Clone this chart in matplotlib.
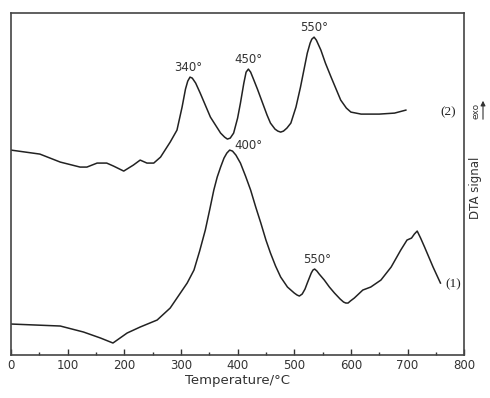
import numpy as np
import matplotlib
matplotlib.use("Agg")
import matplotlib.pyplot as plt
from matplotlib.ticker import MultipleLocator

# curve (2), upper trace, arbitrary units
t2 = [0, 51, 87, 122, 134, 152, 169, 181, 199, 216, 228, 240, 252, 264, 281, 293,
      302, 308, 312, 316, 320, 326, 334, 352, 370, 377, 382, 387, 393, 400, 405,
      411, 415, 419, 423, 428, 435, 452, 458, 466, 471, 476, 481, 487, 494, 503,
      511, 523, 528, 531, 535, 539, 547, 555, 565, 582, 592, 600, 618, 650, 677, 697]
s2 = [205, 201, 193, 188, 188, 192, 192, 189, 184, 190, 195, 192, 192, 198, 213, 225,
      248, 266, 274, 278, 277, 272, 262, 238, 222, 218, 216, 217, 222, 237, 252,
      272, 283, 286, 283, 276, 266, 240, 232, 226, 224, 223, 224, 227, 232, 248,
      268, 302, 312, 316, 318, 315, 305, 292, 278, 255, 247, 243, 241, 241, 242, 245]

# curve (1), lower trace
t1 = [0, 87, 128, 158, 180, 205, 228, 258, 281, 299, 311, 323, 333, 343, 351, 358,
      364, 370, 376, 381, 386, 391, 397, 405, 414, 423, 432, 441, 450, 458, 467,
      476, 488, 500, 505, 509, 514, 519, 523, 530, 533, 536, 540, 544, 553, 562,
      571, 581, 587, 591, 595, 599, 606, 621, 635, 653, 671, 688, 699, 707, 712,
      717, 723, 730, 745, 758]
s1 = [31, 29, 23, 17, 12, 22, 28, 35, 47, 62, 72, 85, 104, 125, 146, 165,
      178, 188, 197, 202, 205, 204, 200, 192, 179, 165, 148, 132, 115, 102, 89,
      78, 68, 62, 60, 59, 61, 66, 72, 82, 85, 86, 84, 81, 75, 68,
      62, 56, 53, 52, 52, 54, 57, 65, 68, 75, 88, 105, 115, 117, 121,
      124, 117, 108, 88, 72]

peak_labels = [("340°", 313, 288), ("450°", 420, 296), ("550°", 535, 328),
               ("400°", 420, 210), ("550°", 541, 96)]

fig = plt.figure(figsize=(4.9, 3.98), dpi=100)
ax = fig.add_axes([0.0224, 0.108, 0.925, 0.859])

ax.plot(t2, s2, color="#222222", lw=1.1, solid_joinstyle="round")
ax.plot(t1, s1, color="#222222", lw=1.1, solid_joinstyle="round")

for txt, x, y in peak_labels:
    ax.text(x, y, txt, ha="center", va="center", fontsize=8.5, color="#333333")

ax.text(772, 243, "(2)", ha="center", va="center", fontsize=9.5,
        family="Liberation Serif", color="#222222")
ax.text(780, 71, "(1)", ha="center", va="center", fontsize=9.5,
        family="Liberation Serif", color="#222222")

ax.set_xlim(0, 800)
ax.set_ylim(0, 342)
ax.xaxis.set_major_locator(MultipleLocator(100))
ax.xaxis.set_minor_locator(MultipleLocator(50))
ax.tick_params(axis="x", which="major", direction="in", length=4, width=1,
               labelsize=8.5, colors="#333333", pad=3)
ax.tick_params(axis="x", which="minor", direction="in", length=2.5, width=1,
               colors="#333333")
ax.set_yticks([])
for sp in ax.spines.values():
    sp.set_color("#444444")
    sp.set_linewidth(1.2)
ax.set_xlabel("Temperature/°C", fontsize=9.5, color="#333333", labelpad=1)

fig.text(0.971, 0.528, "DTA signal", rotation=90, ha="center", va="center",
         fontsize=8.5, color="#333333")
fig.text(0.971, 0.721, "exo", rotation=90, ha="center", va="center",
         fontsize=6.5, color="#333333")
fig.add_artist(matplotlib.patches.FancyArrowPatch(
    (483 / 490, (398 - 122) / 398), (483 / 490, (398 - 98) / 398),
    transform=fig.transFigure, arrowstyle="-|>", mutation_scale=7,
    color="#333333", lw=0.8))

fig.savefig("out.png", dpi=100)
